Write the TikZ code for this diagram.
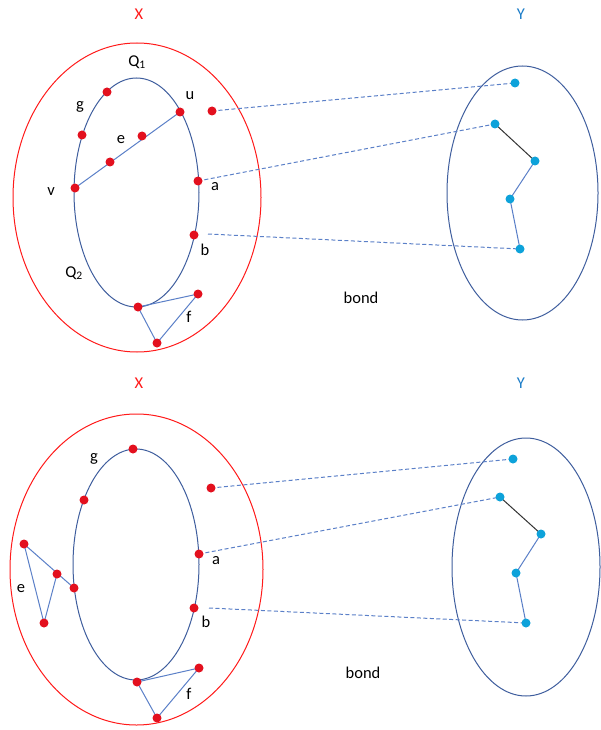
\documentclass[tikz,border=0pt]{standalone}
\usepackage{fontspec}
\setmainfont{Carlito}
\pgfdeclarelayer{background}
\pgfsetlayers{background,main}
\definecolor{dotred}{HTML}{E3101E}
\definecolor{xred}{HTML}{FF1A1A}
\definecolor{ellblue}{HTML}{3F5E9E}
\definecolor{edgeblue}{HTML}{5B80C8}
\definecolor{cyandot}{HTML}{0DA2DA}
\definecolor{yblue}{HTML}{1A7CC8}
\tikzset{
  rdot/.style={circle,fill=dotred,inner sep=0pt,minimum size=9pt},
  cdot/.style={circle,fill=cyandot,inner sep=0pt,minimum size=9pt},
  lbl/.style={inner sep=0pt,font=\fontsize{16.5}{19}\selectfont},
  edge/.style={draw=edgeblue,line width=1pt},
  bedge/.style={draw=black!80,line width=1pt},
  dashe/.style={draw=edgeblue,line width=1pt,dash pattern=on 4pt off 2.5pt},
  outerell/.style={draw=xred,line width=1pt},
  innerell/.style={draw=ellblue,line width=1pt},
}
\begin{document}
\begin{tikzpicture}[x=1pt,y=-1pt]
\begin{pgfonlayer}{background}
\useasboundingbox[fill=white] (0,0) rectangle (599,730);
\end{pgfonlayer}
% ================= TOP PANEL =================
\node[lbl,text=xred] (X1) at (139,14) {X};
\node[lbl,text=yblue] (Y1) at (521,14) {Y};
% red dots
\node[rdot] (tg1) at (107,92) {};
\node[rdot] (tg2) at (82,135) {};
\node[rdot] (tu) at (180,112) {};
\node[rdot] (te1) at (142,136) {};
\node[rdot] (te2) at (110,162) {};
\node[rdot] (tv) at (75,188) {};
\node[rdot] (ta) at (198,181) {};
\node[rdot] (tb) at (194,235) {};
\node[rdot] (tout) at (212,111) {};
\node[rdot] (tbot) at (138,307) {};
\node[rdot] (tf1) at (198,294) {};
\node[rdot] (tf2) at (157,343) {};
% cyan dots
\node[cdot] (ty1) at (515,83) {};
\node[cdot] (ty2) at (495,124) {};
\node[cdot] (ty3) at (535,161) {};
\node[cdot] (ty4) at (510,199) {};
\node[cdot] (ty5) at (520,249) {};
\coordinate (tbs) at (208,234);
\begin{pgfonlayer}{background}
\draw[outerell] (137,197.5) ellipse [x radius=124pt, y radius=154.5pt];
\draw[innerell] (136.5,192.5) ellipse [x radius=62.5pt, y radius=114.5pt];
\draw[innerell] (522.5,193) ellipse [x radius=75.5pt, y radius=127pt];
\draw[edge] (tv.center) -- (tu.center);
\draw[edge] (tbot.center) -- (tf1.center) -- (tf2.center) -- (tbot.center);
\draw[bedge] (ty2.center) -- (ty3.center);
\draw[edge] (ty3.center) -- (ty4.center) -- (ty5.center);
\draw[dashe] (tout.center) -- (ty1.center);
\draw[dashe] (ta.center) -- (ty2.center);
\draw[dashe] (tbs) -- (ty5.center);
\end{pgfonlayer}
% labels
\node[lbl] (tQ1) at (137,62) {Q\textsubscript{1}};
\node[lbl] (tQ2) at (74,273) {Q\textsubscript{2}};
\node[lbl] (tlg) at (80,107) {g};
\node[lbl] (tlu) at (190,96) {u};
\node[lbl] (tle) at (121,140) {e};
\node[lbl] (tlv) at (51,192) {v};
\node[lbl] (tla) at (215,187) {a};
\node[lbl] (tlb) at (205,250) {b};
\node[lbl] (tlf) at (189,317) {f};
\node[lbl] (tbond) at (361,298) {bond};
% ================= BOTTOM PANEL =================
\node[lbl,text=xred] (X2) at (139,383) {X};
\node[lbl,text=yblue] (Y2) at (521,383) {Y};
% red dots
\node[rdot] (btop) at (133,449) {};
\node[rdot] (bg2) at (84,500) {};
\node[rdot] (bout) at (211,488) {};
\node[rdot] (ba) at (199,554) {};
\node[rdot] (bb) at (194,608) {};
\node[rdot] (bl) at (74,588) {};
\node[rdot] (be1) at (57,574) {};
\node[rdot] (be2) at (24,544) {};
\node[rdot] (be3) at (44,623) {};
\node[rdot] (bbot) at (137,682) {};
\node[rdot] (bf1) at (199,668) {};
\node[rdot] (bf2) at (157,718) {};
% cyan dots
\node[cdot] (by1) at (513,459) {};
\node[cdot] (by2) at (500,497) {};
\node[cdot] (by3) at (541,534) {};
\node[cdot] (by4) at (516,573) {};
\node[cdot] (by5) at (526,623) {};
\coordinate (bbs) at (209,608);
\begin{pgfonlayer}{background}
\draw[outerell] (136.5,569.5) ellipse [x radius=126.5pt, y radius=155.5pt];
\draw[innerell] (136,564.5) ellipse [x radius=63pt, y radius=115.5pt];
\draw[innerell] (526,567) ellipse [x radius=74pt, y radius=129pt];
\draw[edge] (be2.center) -- (bl.center);
\draw[edge] (be1.center) -- (be3.center) -- (be2.center);
\draw[edge] (bbot.center) -- (bf1.center) -- (bf2.center) -- (bbot.center);
\draw[bedge] (by2.center) -- (by3.center);
\draw[edge] (by3.center) -- (by4.center) -- (by5.center);
\draw[dashe] (bout.center) -- (by1.center);
\draw[dashe] (ba.center) -- (by2.center);
\draw[dashe] (bbs) -- (by5.center);
\end{pgfonlayer}
% labels
\node[lbl] (blg) at (94,459) {g};
\node[lbl] (ble) at (21,589) {e};
\node[lbl] (bla) at (216,561) {a};
\node[lbl] (blb) at (206,622) {b};
\node[lbl] (blf) at (189,694) {f};
\node[lbl] (bbond) at (363,673) {bond};
\end{tikzpicture}
\end{document}
